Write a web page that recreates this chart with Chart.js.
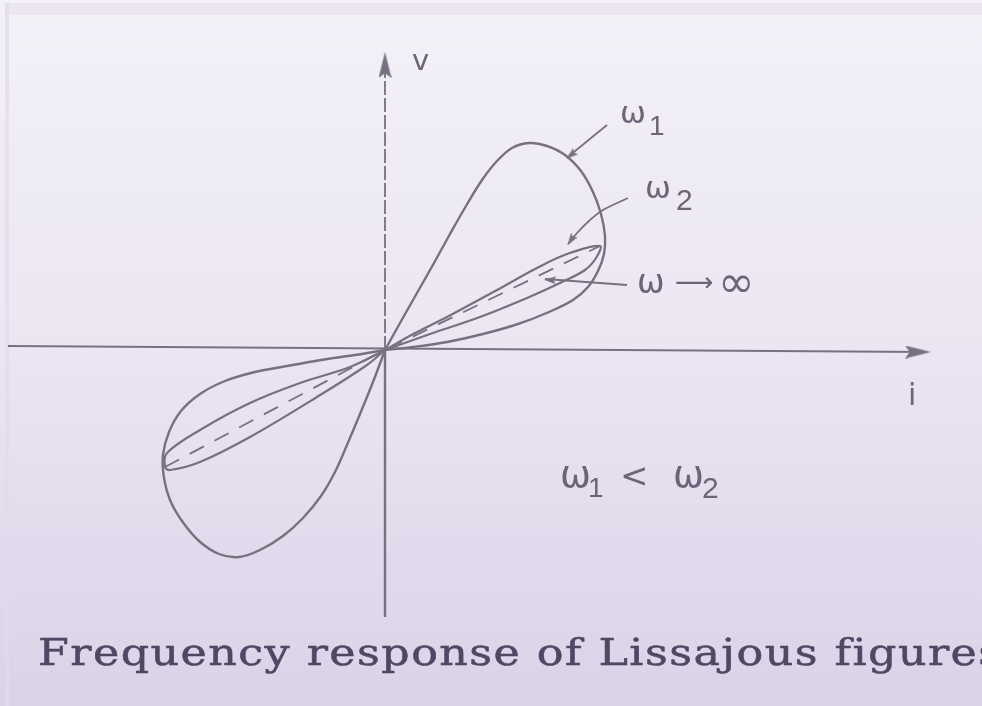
<!DOCTYPE html>
<html lang="en">
<head>
    <meta charset="UTF-8">
    <title>Frequency response of Lissajous figures</title>
    <script src="https://cdn.jsdelivr.net/npm/chart.js"></script>
    <style>
        html, body {
            margin: 0;
            padding: 0;
        }
        body {
            width: 982px;
            height: 706px;
            overflow: hidden;
            position: relative;
            background: linear-gradient(to bottom, #f3f1f8 0%, #ece7f3 45%, #dcd2e8 100%);
        }
        .band-top {
            position: absolute;
            left: 5px;
            right: 0;
            top: 3px;
            height: 12px;
            background: #ebe6f2;
        }
        .band-left {
            position: absolute;
            left: 5px;
            top: 3px;
            bottom: 0;
            width: 4px;
            background: rgba(225, 218, 236, 0.7);
        }
        #lissajous {
            position: absolute;
            left: 0;
            top: 0;
        }
        .caption {
            position: absolute;
            left: 38px;
            top: 631px;
            font-family: "DejaVu Serif", serif;
            font-size: 37px;
            letter-spacing: 1.2px;
            color: #4f4763;
            white-space: nowrap;
            transform: scaleX(1.2);
            transform-origin: left top;
            -webkit-text-stroke: 0.5px #4f4763;
        }
    </style>
</head>
<body>
    <div class="band-top"></div>
    <div class="band-left"></div>
    <canvas id="lissajous" width="982" height="706"></canvas>
    <div class="caption">Frequency response of Lissajous figures</div>

    <script>
        // v against i, traced for two frequencies (w1 < w2) and the w -> infinity limit
        const omega1Upper = [[0, 0], [0.15, 0.27], [0.32, 0.57], [0.49, 0.87], [0.65, 1.16], [0.81, 1.44],
            [0.97, 1.70], [1.12, 1.89], [1.27, 2.02], [1.44, 2.07], [1.62, 2.04], [1.80, 1.95],
            [1.96, 1.79], [2.08, 1.58], [2.16, 1.36], [2.20, 1.14], [2.19, 0.96], [2.13, 0.79],
            [2.03, 0.63], [1.88, 0.50], [1.64, 0.38], [1.33, 0.26], [0.98, 0.16], [0.62, 0.08],
            [0.28, 0.03], [0, 0]];
        const omega1Lower = [[0, 0], [-0.30, -0.05], [-0.64, -0.10], [-0.98, -0.16], [-1.30, -0.22],
            [-1.60, -0.31], [-1.85, -0.44], [-2.04, -0.61], [-2.16, -0.82], [-2.22, -1.05],
            [-2.21, -1.28], [-2.15, -1.50], [-2.03, -1.71], [-1.86, -1.91], [-1.66, -2.04],
            [-1.46, -2.07], [-1.25, -2.00], [-1.02, -1.86], [-0.82, -1.68], [-0.64, -1.46],
            [-0.50, -1.22], [-0.38, -0.95], [-0.25, -0.64], [-0.12, -0.32], [0, 0]];
        const omega2Upper = [[0, 0], [0.30, 0.17], [0.62, 0.33], [1.12, 0.60], [1.52, 0.82], [1.82, 0.96],
            [2.15, 1.04], [2.11, 0.92], [2.00, 0.80], [1.77, 0.68], [1.42, 0.52], [0.95, 0.33],
            [0.45, 0.16], [0, 0]];
        const omega2Lower = [[0, 0], [-0.35, -0.17], [-0.85, -0.33], [-1.35, -0.53], [-1.85, -0.80],
            [-2.18, -1.03], [-2.20, -1.17], [-2.15, -1.20], [-1.85, -1.12], [-1.35, -0.87],
            [-0.68, -0.47], [-0.18, -0.15], [0, 0]];
        const omegaInfinity = [[-2.20, -1.17], [0, 0], [2.15, 1.04]];

        // axes and pointer leaders
        const iAxis = [[-3.77, 0.04], [5.40, -0.02]];
        const vAxisBelow = [[0, -2.67], [0, 0]];
        const vAxisAbove = [[0, 0], [0, 2.90]];
        const leaderW1 = [[2.22, 2.25], [1.84, 1.94]];
        const leaderW2 = [[2.43, 1.52], [2.18, 1.40], [2.05, 1.30], [1.92, 1.17], [1.83, 1.06]];
        const leaderInf = [[2.42, 0.65], [1.60, 0.71]];
        const axisHeads = [[0, 2.85, 0], [5.33, -0.02, 90]];
        const leaderHeads = [[1.86, 1.95, 231], [1.86, 1.10, 214], [1.65, 0.70, 274]];

        // each part: text, x offset, y offset, font size, font
        const sans = '"DejaVu Sans"';
        const digits = '"Liberation Sans"';
        const labels = [
            { at: [0.27, 2.80], parts: [['v', 0, 0, 29, sans]] },
            { at: [2.35, 2.27], parts: [['ω', 0, 0, 31, sans], ['1', 29, 12, 28, digits]] },
            { at: [2.60, 1.52], parts: [['ω', 0, 0, 31, sans], ['2', 31, 12, 30, digits]] },
            { at: [2.52, 0.57], parts: [['ω', 0, 0, 33, sans], ['⟶', 38, -2, 27, sans], ['∞', 81, 4, 44, sans]] },
            { at: [1.75, -1.37], parts: [['ω', 0, 0, 37, sans], ['1', 28, 10, 28, digits], ['<', 60, 0, 34, sans],
                ['ω', 113, 0, 37, sans], ['2', 142, 11, 30, digits]] },
            { at: [5.23, -0.55], parts: [['i', 0, 0, 30, sans]] }
        ];

        const ink = '#77707f';
        const textInk = '#6c6577';

        const toXY = pts => pts.map(([x, y]) => ({ x, y }));

        // narrow filled arrowhead pointing up, used as a point style
        function makeHead(w, h) {
            const c = document.createElement('canvas');
            c.width = w;
            c.height = h;
            const g = c.getContext('2d');
            g.fillStyle = ink;
            g.beginPath();
            g.moveTo(w / 2, 0);
            g.lineTo(w, h);
            g.lineTo(w / 2, h * 0.82);
            g.lineTo(0, h);
            g.closePath();
            g.fill();
            return c;
        }
        const bigHead = makeHead(13, 26);
        const smallHead = makeHead(8, 12);

        function curve(pts, extra) {
            return Object.assign({
                data: toXY(pts),
                showLine: true,
                borderColor: ink,
                borderWidth: 2.4,
                pointRadius: 0,
                tension: 0.35,
                fill: false
            }, extra || {});
        }

        function heads(list, img) {
            return {
                data: list.map(([x, y]) => ({ x, y })),
                pointStyle: img,
                rotation: list.map(h => h[2]),
                pointRadius: 6,
                showLine: false
            };
        }

        // writes the annotation text at data positions
        const figureText = {
            id: 'figureText',
            afterDatasetsDraw(chart) {
                const { ctx, scales: { x, y } } = chart;
                ctx.save();
                ctx.fillStyle = textInk;
                ctx.textBaseline = 'alphabetic';
                ctx.textAlign = 'left';
                labels.forEach(l => {
                    const px = x.getPixelForValue(l.at[0]);
                    const py = y.getPixelForValue(l.at[1]);
                    l.parts.forEach(([t, dx, dy, size, family]) => {
                        ctx.font = size + 'px ' + family;
                        ctx.fillText(t, px + dx, py + dy);
                    });
                });
                ctx.restore();
            }
        };

        new Chart(document.getElementById('lissajous'), {
            type: 'scatter',
            data: {
                datasets: [
                    curve(iAxis, { tension: 0, borderWidth: 2.2 }),
                    curve(vAxisBelow, { tension: 0, borderWidth: 2.4 }),
                    curve(vAxisAbove, { tension: 0, borderWidth: 1.8, borderDash: [14, 3] }),
                    curve(omega1Upper),
                    curve(omega1Lower),
                    curve(omega2Upper, { borderWidth: 2.2 }),
                    curve(omega2Lower, { borderWidth: 2.2 }),
                    curve(omegaInfinity, { tension: 0, borderWidth: 1.8, borderDash: [16, 12] }),
                    curve(leaderW1, { tension: 0, borderWidth: 1.8 }),
                    curve(leaderW2, { borderWidth: 1.8 }),
                    curve(leaderInf, { tension: 0, borderWidth: 1.8 }),
                    heads(axisHeads, bigHead),
                    heads(leaderHeads, smallHead)
                ]
            },
            options: {
                responsive: false,
                animation: false,
                events: [],
                layout: {
                    padding: { left: 8, right: 46, top: 40, bottom: 86 }
                },
                scales: {
                    x: { type: 'linear', min: -3.77, max: 5.51, display: false },
                    y: { type: 'linear', min: -2.70, max: 3.10, display: false }
                },
                plugins: {
                    legend: { display: false },
                    tooltip: { enabled: false }
                }
            },
            plugins: [figureText]
        });
    </script>
</body>
</html>
